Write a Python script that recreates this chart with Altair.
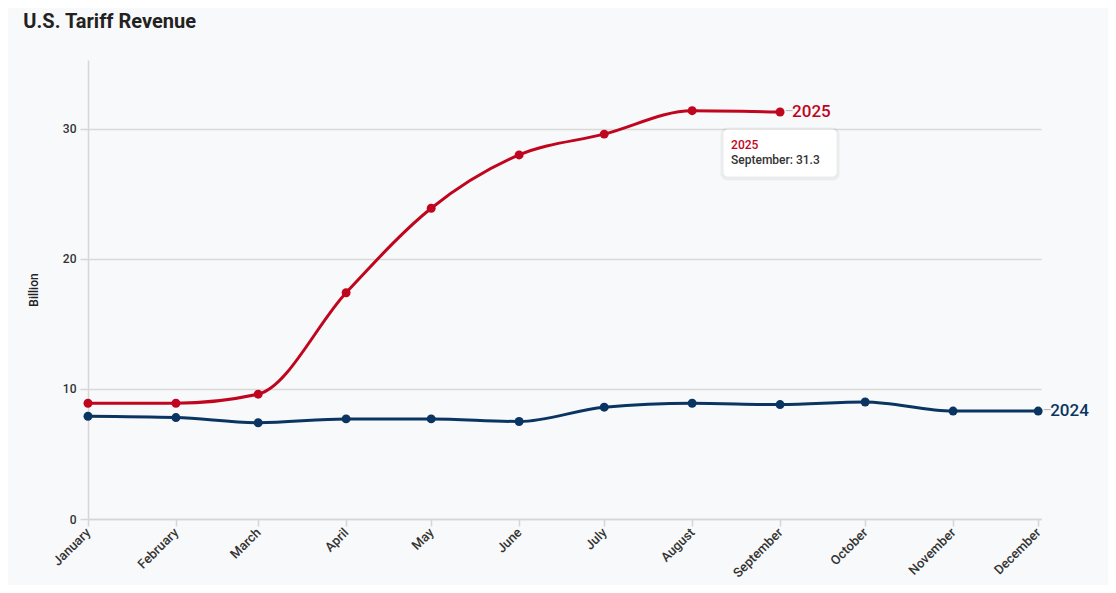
import altair as alt
import pandas as pd

months = ["January", "February", "March", "April", "May", "June", "July",
          "August", "September", "October", "November", "December"]
dates = [f"2024-{i:02d}-01" for i in range(1, 13)]
rev_2024 = [7.9, 7.8, 7.4, 7.7, 7.7, 7.5, 8.6, 8.9, 8.8, 9.0, 8.3, 8.3]
rev_2025 = [8.9, 8.9, 9.6, 17.4, 23.9, 28.0, 29.6, 31.4, 31.3]

RED = "#c0051f"
NAVY = "#0a3461"
FONT = "Roboto"

rows = []
for d, m, v in zip(dates, months, rev_2024):
    rows.append({"date": d, "month": m, "value": v, "year": "2024"})
for d, m, v in zip(dates, months, rev_2025):
    rows.append({"date": d, "month": m, "value": v, "year": "2025"})
df = pd.DataFrame(rows)

last = df.groupby("year").tail(1).reset_index(drop=True)
tip = pd.DataFrame([{"date": dates[8], "value": rev_2025[8],
                     "head": "2025", "body": f"{months[8]}: {rev_2025[8]}"}])

xscale = alt.Scale(domain=["2024-01-01", "2024-12-02"])
yscale = alt.Scale(domain=[0, 35.3], nice=False)
color = alt.Color("year:N", scale=alt.Scale(domain=["2024", "2025"], range=[NAVY, RED]), legend=None)

x = alt.X("date:T", scale=xscale,
          axis=alt.Axis(title=None, values=dates, labelExpr="timeFormat(datum.value, '%B')",
                        labelAngle=-45, labelAlign="right", labelBaseline="middle",
                        labelPadding=4, tickSize=7, grid=False, domainColor="#d6d6d6",
                        tickColor="#d6d6d6", domainWidth=1.5, tickWidth=1.5,
                        labelFont=FONT, labelFontSize=13, labelFontWeight=500, labelColor="#333333"))
y = alt.Y("value:Q", scale=yscale,
          axis=alt.Axis(title="Billion", values=[0, 10, 20, 30], tickSize=8, labelPadding=4,
                        gridColor="#d9d9d9", gridWidth=1.5, domainColor="#d6d6d6", domainWidth=1.5,
                        tickColor="#d6d6d6", tickWidth=1.5,
                        labelFont=FONT, labelFontSize=12, labelFontWeight=500, labelColor="#333333",
                        titleFont=FONT, titleFontSize=12, titleFontWeight=500,
                        titleColor="#222222", titlePadding=22))

base = alt.Chart(df).encode(x=x, y=y, color=color)
lines = base.mark_line(interpolate="monotone", strokeWidth=3)
points = base.mark_circle(size=80, opacity=1)

conn = alt.Chart(last).mark_text(text="–", dx=9, fontSize=14, color="#bbbbbb", font=FONT).encode(
    x="date:T", y="value:Q")
labels = alt.Chart(last).mark_text(align="left", dx=12, fontSize=17, fontWeight=500, font=FONT).encode(
    x="date:T", y="value:Q", text="year:N", color=color)

shadow = alt.Chart(tip).mark_rect(width=119, height=53, yOffset=42, cornerRadius=7,
                                   color="#000000", opacity=0.05).encode(x="date:T", y="value:Q")
box = alt.Chart(tip).mark_rect(width=113, height=47, yOffset=41, cornerRadius=4,
                                color="#ffffff").encode(x="date:T", y="value:Q")
tip1 = alt.Chart(tip).mark_text(align="left", dx=-49, dy=33, fontSize=12, fontWeight=500,
                                 color=RED, font=FONT).encode(x="date:T", y="value:Q", text="head:N")
tip2 = alt.Chart(tip).mark_text(align="left", dx=-49, dy=48, fontSize=12, fontWeight=500,
                                 color="#333333", font=FONT).encode(x="date:T", y="value:Q", text="body:N")

chart = alt.layer(lines, points, conn, labels, shadow, box, tip1, tip2).properties(
    width=953, height=459,
    padding={"left": 80, "top": 52, "right": 67, "bottom": 66},
    autosize=alt.AutoSizeParams(type="none"),
    background="#f8f9fa",
    title=alt.TitleParams("U.S. Tariff Revenue", anchor="start", dx=-4, offset=28,
                          font=FONT, fontSize=20, fontWeight="bold", color="#222222"),
).configure_view(stroke=None)

chart.save("out.html", embed_options={"renderer": "svg", "actions": False})
